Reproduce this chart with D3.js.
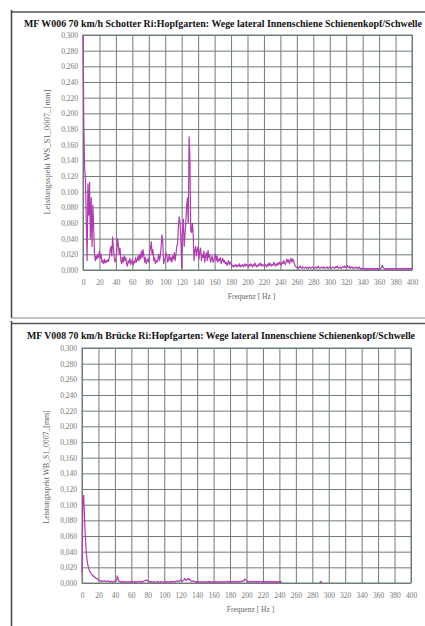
<!DOCTYPE html>
<html><head><meta charset="utf-8">
<script src="https://cdn.jsdelivr.net/npm/d3@7/dist/d3.min.js"></script>
<style>
html,body{margin:0;padding:0;background:#fff;}
svg{display:block;}
text{font-family:"Liberation Serif","DejaVu Serif",serif;}
</style></head>
<body>
<script>
// ---------- data ----------
const titleTop = "MF W006 70 km/h Schotter Ri:Hopfgarten: Wege lateral Innenschiene Schienenkopf/Schwelle";
const titleBottom = "MF V008 70 km/h Brücke Ri:Hopfgarten: Wege lateral Innenschiene Schienenkopf/Schwelle";
const yTitleTop = "Leistungsspekt WS_S1_0007_[mm]";
const yTitleBottom = "Leistungsspekt WB_S1_0007_[mm]";
const xTitle = "Frequenz [ Hz ]";
const xTicks = [0,20,40,60,80,100,120,140,160,180,200,220,240,260,280,300,320,340,360,380,400];
const yTicks = [0,0.02,0.04,0.06,0.08,0.10,0.12,0.14,0.16,0.18,0.20,0.22,0.24,0.26,0.28,0.30];
const freqStartTop = 0;   // Hz, spacing 1 Hz
const valuesTop = [
0.300,0.185,0.130,0.115,0.060,0.012,0.110,0.070,0.112,0.040,0.092,0.030,0.083,0.055,0.020,0.012,0.018,0.014,0.020,0.016,
0.024,0.015,0.020,0.010,0.012,0.008,0.014,0.009,0.012,0.010,0.013,0.011,0.016,0.025,0.030,0.018,0.042,0.028,0.015,0.010,
0.014,0.022,0.040,0.032,0.020,0.028,0.012,0.008,0.016,0.010,0.018,0.012,0.016,0.008,0.005,0.012,0.009,0.015,0.007,0.010,
0.014,0.006,0.011,0.009,0.016,0.010,0.013,0.018,0.012,0.020,0.014,0.024,0.016,0.026,0.018,0.010,0.016,0.008,0.012,0.014,
0.010,0.022,0.028,0.036,0.020,0.026,0.012,0.016,0.008,0.012,0.010,0.014,0.020,0.012,0.018,0.030,0.045,0.036,0.008,0.012,
0.016,0.022,0.018,0.010,0.014,0.020,0.012,0.016,0.010,0.018,0.014,0.022,0.012,0.020,0.030,0.034,0.055,0.068,0.060,0.040,
0.002,0.050,0.065,0.030,0.045,0.060,0.082,0.092,0.060,0.170,0.140,0.050,0.048,0.060,0.045,0.012,0.025,0.030,0.018,0.026,
0.030,0.014,0.024,0.028,0.012,0.020,0.016,0.024,0.010,0.018,0.022,0.012,0.025,0.016,0.020,0.010,0.014,0.018,0.010,0.012,
0.016,0.020,0.012,0.018,0.010,0.014,0.012,0.016,0.008,0.012,0.015,0.010,0.012,0.008,0.010,0.006,0.009,0.012,0.007,0.010,
0.008,0.005,0.006,0.004,0.006,0.005,0.007,0.004,0.006,0.005,0.008,0.004,0.006,0.005,0.007,0.004,0.006,0.008,0.005,0.007,
0.006,0.004,0.007,0.005,0.008,0.006,0.004,0.007,0.005,0.009,0.006,0.004,0.006,0.005,0.008,0.006,0.009,0.005,0.007,0.006,
0.005,0.008,0.006,0.004,0.007,0.005,0.009,0.006,0.008,0.005,0.007,0.006,0.010,0.007,0.005,0.008,0.006,0.009,0.007,0.010,
0.008,0.006,0.010,0.008,0.012,0.009,0.007,0.011,0.014,0.010,0.013,0.008,0.012,0.015,0.010,0.014,0.012,0.008,0.005,0.004,
0.003,0.004,0.002,0.003,0.005,0.003,0.002,0.004,0.003,0.002,0.003,0.004,0.002,0.003,0.002,0.004,0.003,0.002,0.003,0.004,
0.003,0.002,0.003,0.004,0.002,0.003,0.005,0.003,0.002,0.003,0.004,0.003,0.002,0.004,0.003,0.002,0.003,0.004,0.002,0.003,
0.004,0.003,0.002,0.003,0.004,0.003,0.002,0.004,0.003,0.005,0.003,0.002,0.003,0.004,0.002,0.003,0.004,0.003,0.005,0.003,
0.004,0.006,0.004,0.003,0.005,0.002,0.003,0.004,0.002,0.003,0.002,0.003,0.004,0.002,0.003,0.002,0.004,0.002,0.001,0.002,
0.002,0.001,0.002,0.001,0.002,0.001,0.002,0.001,0.002,0.001,0.002,0.001,0.002,0.001,0.002,0.001,0.002,0.001,0.002,0.001,
0.002,0.001,0.002,0.003,0.006,0.003,0.002,0.001,0.002,0.001,0.002,0.001,0.002,0.001,0.002,0.001,0.002,0.001,0.002,0.001,
0.002,0.001,0.002,0.001,0.002,0.001,0.002,0.001,0.002,0.001,0.002,0.001,0.002,0.001,0.002,0.001,0.002,0.001,0.002,0.001,
0.002
];
const freqStartBottom = 0; // Hz, spacing 1 Hz
const valuesBottom = [
0.013,0.110,0.112,0.085,0.060,0.042,0.030,0.024,0.019,0.016,0.014,0.012,0.011,0.009,0.009,0.008,0.007,0.006,0.006,0.005,
0.004,0.003,0.003,0.002,0.003,0.002,0.002,0.003,0.002,0.002,0.002,0.003,0.002,0.002,0.001,0.002,0.002,0.001,0.002,0.002,
0.002,0.002,0.003,0.009,0.005,0.002,0.002,0.001,0.002,0.001,0.002,0.001,0.001,0.002,0.001,0.001,0.002,0.001,0.001,0.002,
0.001,0.002,0.001,0.001,0.002,0.001,0.002,0.001,0.001,0.002,0.002,0.001,0.002,0.001,0.002,0.002,0.003,0.003,0.004,0.003,
0.003,0.002,0.002,0.001,0.002,0.001,0.001,0.002,0.001,0.001,0.001,0.001,0.002,0.001,0.001,0.001,0.002,0.001,0.001,0.001,
0.001,0.002,0.001,0.001,0.002,0.001,0.001,0.002,0.001,0.002,0.001,0.002,0.002,0.001,0.002,0.002,0.003,0.002,0.002,0.003,
0.004,0.003,0.002,0.003,0.004,0.006,0.004,0.003,0.005,0.006,0.004,0.005,0.003,0.002,0.002,0.003,0.002,0.002,0.001,0.002,
0.001,0.001,0.002,0.001,0.001,0.002,0.001,0.001,0.002,0.001,0.001,0.002,0.001,0.001,0.002,0.001,0.002,0.001,0.001,0.002,
0.001,0.001,0.002,0.001,0.002,0.001,0.001,0.002,0.001,0.001,0.002,0.001,0.001,0.002,0.001,0.001,0.002,0.002,0.001,0.002,
0.001,0.002,0.001,0.002,0.001,0.002,0.002,0.001,0.002,0.001,0.002,0.002,0.001,0.002,0.002,0.003,0.002,0.003,0.005,0.004,
0.003,0.002,0.001,0.002,0.001,0.002,0.001,0.002,0.001,0.002,0.002,0.001,0.002,0.001,0.002,0.001,0.002,0.002,0.001,0.002,
0.001,0.002,0.001,0.002,0.001,0.002,0.001,0.002,0.001,0.002,0.001,0.002,0.001,0.002,0.001,0.002,0.001,0.002,0.001,0.002,
0.001,0.002,0.001,0.001
];
const tailFreqsBottom = [289,290,291,292];
const tailValuesBottom = [0.001,0.002,0.001,0.001];

// ---------- drawing ----------
const W = 425, H = 626;
const svg = d3.select("body").append("svg").attr("width", W).attr("height", H);

// panel frames
const frame = svg.append("g").attr("fill","none");
frame.append("path").attr("d","M11,12H425").attr("stroke","#555").attr("stroke-width",1.5);
frame.append("path").attr("d","M11.5,10V318").attr("stroke","#444").attr("stroke-width",1.5);
frame.append("path").attr("d","M11,318H425").attr("stroke","#888").attr("stroke-width",1);
frame.append("path").attr("d","M11,323.5H425").attr("stroke","#555").attr("stroke-width",1.5);
frame.append("path").attr("d","M11.5,321V626").attr("stroke","#444").attr("stroke-width",1.5);

const fmt = v => d3.format(".3f")(v).replace(".", ",");
const lineColor = "#b03cb0";
const gridColor = "#6f7c77";

function drawPanel(cfg) {
  const x = d3.scaleLinear().domain([0,400]).range([cfg.left, cfg.right]);
  const y = d3.scaleLinear().domain([0,0.3]).range([cfg.bottom, cfg.top]);
  const g = svg.append("g");

  g.append("text").attr("x", cfg.titleX).attr("y", cfg.titleY)
    .attr("font-size", 9.5).attr("font-weight","bold").attr("fill","#111")
    .attr("textLength", cfg.titleW).attr("lengthAdjust","spacingAndGlyphs")
    .text(cfg.title);

  // grid
  g.append("g").attr("transform",`translate(0,${cfg.bottom})`)
    .call(d3.axisBottom(x).tickValues(xTicks).tickSize(-(cfg.bottom-cfg.top)).tickFormat(""))
    .call(s => s.select(".domain").remove())
    .call(s => s.selectAll("line").attr("stroke", gridColor).attr("stroke-width",1));
  g.append("g").attr("transform",`translate(${cfg.left},0)`)
    .call(d3.axisLeft(y).tickValues(yTicks).tickSize(-(cfg.right-cfg.left)).tickFormat(""))
    .call(s => s.select(".domain").remove())
    .call(s => s.selectAll("line").attr("stroke", gridColor).attr("stroke-width",1));
  g.append("rect").attr("x",cfg.left).attr("y",cfg.top)
    .attr("width",cfg.right-cfg.left).attr("height",cfg.bottom-cfg.top)
    .attr("fill","none").attr("stroke",gridColor).attr("stroke-width",1);

  // tick labels
  g.append("g").attr("transform",`translate(0,${cfg.bottom})`)
    .call(d3.axisBottom(x).tickValues(xTicks).tickSize(0).tickPadding(10).tickFormat(d => d))
    .call(s => s.select(".domain").remove())
    .call(s => s.selectAll("text").attr("font-size",7.5).attr("fill","#777")
      .attr("font-family","Liberation Serif, serif"));
  g.append("g").attr("transform",`translate(${cfg.left},0)`)
    .call(d3.axisLeft(y).tickValues(yTicks).tickSize(0).tickPadding(5).tickFormat(fmt))
    .call(s => s.select(".domain").remove())
    .call(s => s.selectAll("text").attr("font-size",7.5).attr("fill","#777")
      .attr("font-family","Liberation Serif, serif"));

  // axis titles
  g.append("text").attr("x",(cfg.left+cfg.right)/2+4).attr("y",cfg.bottom+29)
    .attr("text-anchor","middle").attr("font-size",7.5).attr("fill","#666").text(xTitle);
  g.append("text").attr("transform",`translate(${cfg.yTitleX},${cfg.yTitleY}) rotate(-90)`)
    .attr("text-anchor","middle").attr("font-size",7.5).attr("fill","#666")
    .attr("textLength", cfg.yTitleW).attr("lengthAdjust","spacingAndGlyphs")
    .text(cfg.yTitle);

  const line = d3.line().x(d => x(d[0])).y(d => y(Math.min(d[1],0.3)));
  cfg.series.forEach(s => {
    g.append("path").datum(s).attr("fill","none").attr("stroke",lineColor)
      .attr("stroke-width",1.2).attr("stroke-linejoin","round").attr("d",line);
  });
}

const topSeries = valuesTop.map((v,i) => [freqStartTop + i, v]);
const bottomSeries = valuesBottom.map((v,i) => [freqStartBottom + i, v]);
const bottomTail = tailFreqsBottom.map((f,i) => [f, tailValuesBottom[i]]);

drawPanel({left:83, right:412, top:35, bottom:270, title:titleTop, titleX:24, titleY:27, titleW:398,
  yTitle:yTitleTop, yTitleX:50, yTitleY:152, yTitleW:125, series:[topSeries]});
drawPanel({left:82, right:411, top:348, bottom:583, title:titleBottom, titleX:27, titleY:339, titleW:388,
  yTitle:yTitleBottom, yTitleX:49, yTitleY:467, yTitleW:113, series:[bottomSeries, bottomTail]});
</script>
</body></html>
